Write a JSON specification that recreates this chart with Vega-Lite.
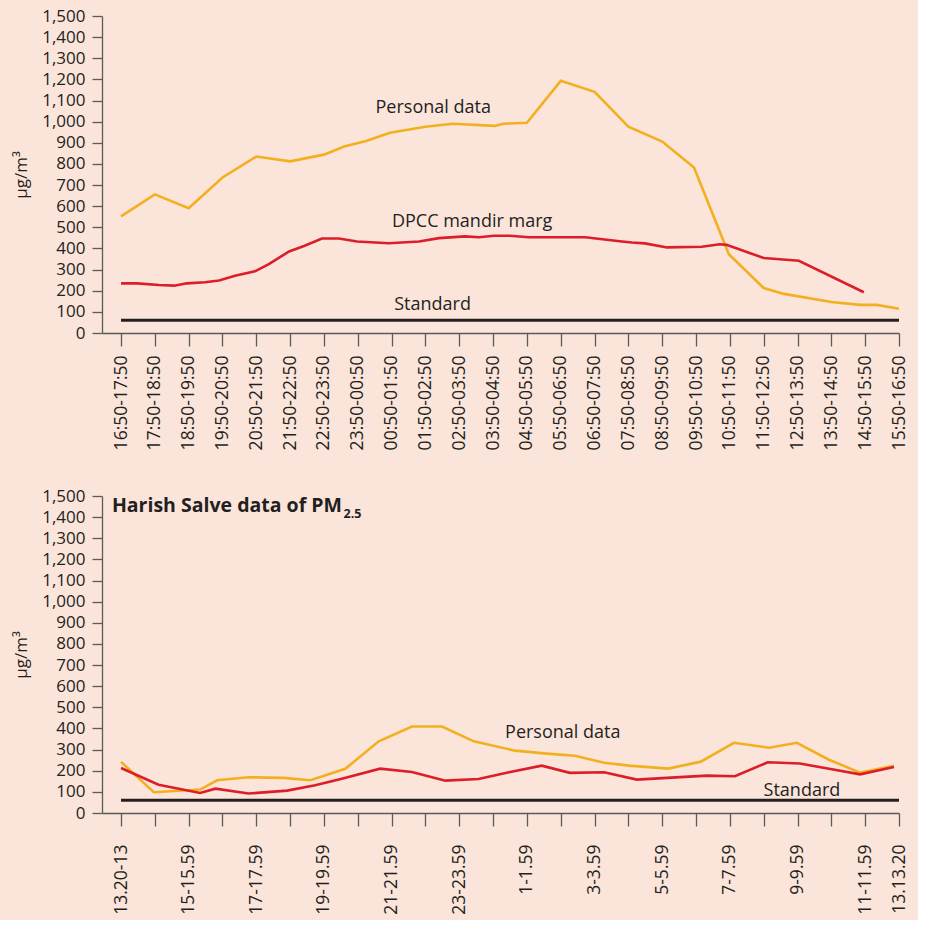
{
  "$schema": "https://vega.github.io/schema/vega-lite/v6.json",
  "background": "#fbe4da",
  "padding": {"top": 7, "left": 12, "right": 10, "bottom": 5},
  "config": {
    "view": {"stroke": null},
    "font": "Open Sans",
    "axis": {
      "grid": false,
      "labelFont": "Open Sans",
      "labelFontSize": 17.5,
      "labelColor": "#231f20",
      "domainColor": "#5a5a5a",
      "tickColor": "#5a5a5a",
      "domainWidth": 1.3,
      "tickWidth": 1.3,
      "titleFont": "Open Sans",
      "titleFontSize": 17,
      "titleFontWeight": "normal",
      "titleColor": "#231f20"
    },
    "concat": {"spacing": 37}
  },
  "datasets": {
    "top": [
      {"series": "Personal data", "idx": 0, "value": 552},
      {"series": "Personal data", "idx": 1, "value": 656},
      {"series": "Personal data", "idx": 2, "value": 590},
      {"series": "Personal data", "idx": 3, "value": 736},
      {"series": "Personal data", "idx": 4, "value": 835},
      {"series": "Personal data", "idx": 5, "value": 812},
      {"series": "Personal data", "idx": 6, "value": 844},
      {"series": "Personal data", "idx": 6.6, "value": 882},
      {"series": "Personal data", "idx": 7.27, "value": 910},
      {"series": "Personal data", "idx": 7.95, "value": 948},
      {"series": "Personal data", "idx": 9.0, "value": 976},
      {"series": "Personal data", "idx": 9.8, "value": 990},
      {"series": "Personal data", "idx": 11.05, "value": 980},
      {"series": "Personal data", "idx": 11.3, "value": 990},
      {"series": "Personal data", "idx": 12.0, "value": 995},
      {"series": "Personal data", "idx": 13.0, "value": 1193},
      {"series": "Personal data", "idx": 14.0, "value": 1141},
      {"series": "Personal data", "idx": 15.0, "value": 976},
      {"series": "Personal data", "idx": 16.0, "value": 906},
      {"series": "Personal data", "idx": 16.94, "value": 783},
      {"series": "Personal data", "idx": 17.97, "value": 373},
      {"series": "Personal data", "idx": 19.0, "value": 213},
      {"series": "Personal data", "idx": 19.6, "value": 185},
      {"series": "Personal data", "idx": 21.0, "value": 147},
      {"series": "Personal data", "idx": 21.85, "value": 133},
      {"series": "Personal data", "idx": 22.35, "value": 133},
      {"series": "Personal data", "idx": 23.0, "value": 115},
      {"series": "DPCC mandir marg", "idx": 0, "value": 235},
      {"series": "DPCC mandir marg", "idx": 0.47, "value": 235},
      {"series": "DPCC mandir marg", "idx": 1.12, "value": 227},
      {"series": "DPCC mandir marg", "idx": 1.57, "value": 224},
      {"series": "DPCC mandir marg", "idx": 1.95, "value": 235},
      {"series": "DPCC mandir marg", "idx": 2.48, "value": 240},
      {"series": "DPCC mandir marg", "idx": 2.9, "value": 248},
      {"series": "DPCC mandir marg", "idx": 3.37, "value": 271},
      {"series": "DPCC mandir marg", "idx": 3.96, "value": 292},
      {"series": "DPCC mandir marg", "idx": 4.37, "value": 326},
      {"series": "DPCC mandir marg", "idx": 4.97, "value": 386},
      {"series": "DPCC mandir marg", "idx": 5.41, "value": 412},
      {"series": "DPCC mandir marg", "idx": 5.94, "value": 447},
      {"series": "DPCC mandir marg", "idx": 6.44, "value": 447},
      {"series": "DPCC mandir marg", "idx": 6.98, "value": 433},
      {"series": "DPCC mandir marg", "idx": 7.92, "value": 425},
      {"series": "DPCC mandir marg", "idx": 8.81, "value": 433},
      {"series": "DPCC mandir marg", "idx": 9.4, "value": 449},
      {"series": "DPCC mandir marg", "idx": 10.17, "value": 457},
      {"series": "DPCC mandir marg", "idx": 10.58, "value": 453},
      {"series": "DPCC mandir marg", "idx": 11.03, "value": 460},
      {"series": "DPCC mandir marg", "idx": 11.5, "value": 460},
      {"series": "DPCC mandir marg", "idx": 12.06, "value": 453},
      {"series": "DPCC mandir marg", "idx": 13.72, "value": 453},
      {"series": "DPCC mandir marg", "idx": 14.81, "value": 433},
      {"series": "DPCC mandir marg", "idx": 15.1, "value": 428},
      {"series": "DPCC mandir marg", "idx": 15.49, "value": 424},
      {"series": "DPCC mandir marg", "idx": 16.14, "value": 405},
      {"series": "DPCC mandir marg", "idx": 17.17, "value": 408},
      {"series": "DPCC mandir marg", "idx": 17.7, "value": 420},
      {"series": "DPCC mandir marg", "idx": 17.9, "value": 417},
      {"series": "DPCC mandir marg", "idx": 19.0, "value": 355},
      {"series": "DPCC mandir marg", "idx": 20.04, "value": 342},
      {"series": "DPCC mandir marg", "idx": 21.96, "value": 193}
    ],
    "topStandard": [
      {"series": "Standard", "idx": 0, "value": 60},
      {"series": "Standard", "idx": 23, "value": 60}
    ],
    "topNotes": [
      {"idx": 9.23, "value": 1041, "label": "Personal data"},
      {"idx": 10.38, "value": 503, "label": "DPCC mandir marg"},
      {"idx": 9.21, "value": 109, "label": "Standard"}
    ],
    "bottom": [
      {"series": "Personal data", "idx": 0, "value": 242},
      {"series": "Personal data", "idx": 0.97, "value": 98},
      {"series": "Personal data", "idx": 2.34, "value": 111},
      {"series": "Personal data", "idx": 2.84, "value": 155},
      {"series": "Personal data", "idx": 3.77, "value": 169},
      {"series": "Personal data", "idx": 4.81, "value": 166},
      {"series": "Personal data", "idx": 5.6, "value": 155},
      {"series": "Personal data", "idx": 6.63, "value": 209},
      {"series": "Personal data", "idx": 7.62, "value": 339},
      {"series": "Personal data", "idx": 8.6, "value": 409},
      {"series": "Personal data", "idx": 9.49, "value": 409},
      {"series": "Personal data", "idx": 10.43, "value": 339},
      {"series": "Personal data", "idx": 11.65, "value": 295},
      {"series": "Personal data", "idx": 12.59, "value": 281},
      {"series": "Personal data", "idx": 13.42, "value": 271},
      {"series": "Personal data", "idx": 14.28, "value": 238},
      {"series": "Personal data", "idx": 15.02, "value": 224},
      {"series": "Personal data", "idx": 16.17, "value": 210},
      {"series": "Personal data", "idx": 17.14, "value": 243},
      {"series": "Personal data", "idx": 18.12, "value": 332},
      {"series": "Personal data", "idx": 19.16, "value": 309},
      {"series": "Personal data", "idx": 19.98, "value": 332},
      {"series": "Personal data", "idx": 20.93, "value": 252},
      {"series": "Personal data", "idx": 21.85, "value": 191},
      {"series": "Personal data", "idx": 22.85, "value": 224},
      {"series": "Ambient data", "idx": 0, "value": 213},
      {"series": "Ambient data", "idx": 1.11, "value": 134},
      {"series": "Ambient data", "idx": 2.34, "value": 95},
      {"series": "Ambient data", "idx": 2.79, "value": 115},
      {"series": "Ambient data", "idx": 3.77, "value": 92},
      {"series": "Ambient data", "idx": 4.91, "value": 106},
      {"series": "Ambient data", "idx": 5.74, "value": 131},
      {"series": "Ambient data", "idx": 6.53, "value": 162},
      {"series": "Ambient data", "idx": 7.66, "value": 210},
      {"series": "Ambient data", "idx": 8.6, "value": 194},
      {"series": "Ambient data", "idx": 9.59, "value": 153},
      {"series": "Ambient data", "idx": 10.57, "value": 161},
      {"series": "Ambient data", "idx": 11.47, "value": 193},
      {"series": "Ambient data", "idx": 12.44, "value": 224},
      {"series": "Ambient data", "idx": 13.27, "value": 190},
      {"series": "Ambient data", "idx": 14.28, "value": 193},
      {"series": "Ambient data", "idx": 15.25, "value": 158},
      {"series": "Ambient data", "idx": 16.14, "value": 166},
      {"series": "Ambient data", "idx": 17.32, "value": 177},
      {"series": "Ambient data", "idx": 18.15, "value": 174},
      {"series": "Ambient data", "idx": 19.12, "value": 240},
      {"series": "Ambient data", "idx": 20.07, "value": 234},
      {"series": "Ambient data", "idx": 20.93, "value": 209},
      {"series": "Ambient data", "idx": 21.85, "value": 183},
      {"series": "Ambient data", "idx": 22.85, "value": 218}
    ],
    "bottomStandard": [
      {"series": "Standard", "idx": 0, "value": 60},
      {"series": "Standard", "idx": 23, "value": 60}
    ],
    "bottomNotes": [
      {"idx": 13.06, "value": 354, "label": "Personal data"},
      {"idx": 20.13, "value": 82, "label": "Standard"}
    ],
    "bottomTitle": [
      {"idx": 6.53, "value": 1423, "label": "Harish Salve data of PM"}
    ],
    "bottomSub": [
      {"idx": 6.58, "value": 1395, "label": "2.5"}
    ]
  },
  "vconcat": [
    {
      "width": 797,
      "height": 317,
      "encoding": {
        "x": {
          "field": "idx",
          "type": "quantitative",
          "scale": {"domain": [-0.562, 23], "nice": false, "zero": false},
          "axis": {
            "title": null,
            "values": [0,1,2,3,4,5,6,7,8,9,10,11,12,13,14,15,16,17,18,19,20,21,22,23],
            "labelExpr": "['16:50-17:50','17:50-18:50','18:50-19:50','19:50-20:50','20:50-21:50','21:50-22:50','22:50-23:50','23:50-00:50','00:50-01:50','01:50-02:50','02:50-03:50','03:50-04:50','04:50-05:50','05:50-06:50','06:50-07:50','07:50-08:50','08:50-09:50','09:50-10:50','10:50-11:50','11:50-12:50','12:50-13:50','13:50-14:50','14:50-15:50','15:50-16:50'][datum.value]",
            "labelAngle": 270,
            "tickSize": 13,
            "labelPadding": 9,
            "labelOverlap": false,
            "labelFlush": false,
            "labelBound": false
          }
        },
        "y": {
          "field": "value",
          "type": "quantitative",
          "scale": {"domain": [0, 1500], "nice": false},
          "axis": {
            "title": "µg/m³",
            "values": [0,100,200,300,400,500,600,700,800,900,1000,1100,1200,1300,1400,1500],
            "format": ",.0f",
            "labelFontSize": 17,
            "tickSize": 10,
            "labelPadding": 7,
            "titlePadding": 11,
            "labelOverlap": false,
            "labelFlush": false
          }
        }
      },
      "layer": [
        {
          "data": {"name": "top"},
          "mark": {"type": "line", "strokeWidth": 2.6},
          "encoding": {
            "color": {
              "field": "series",
              "type": "nominal",
              "scale": {"domain": ["Personal data", "DPCC mandir marg", "Ambient data"], "range": ["#f2b01e", "#dc1d2a", "#dc1d2a"]},
              "legend": null
            }
          }
        },
        {
          "data": {"name": "topStandard"},
          "mark": {"type": "line", "strokeWidth": 3, "color": "#231f20"},
          "encoding": {}
        },
        {
          "data": {"name": "topNotes"},
          "mark": {"type": "text", "fontSize": 18, "color": "#231f20", "align": "center", "baseline": "alphabetic", "font": "Open Sans"},
          "encoding": {"text": {"field": "label"}}
        }
      ]
    },
    {
      "width": 797,
      "height": 317,
      "encoding": {
        "x": {
          "field": "idx",
          "type": "quantitative",
          "scale": {"domain": [-0.562, 23], "nice": false, "zero": false},
          "axis": {
            "title": null,
            "values": [0,1,2,3,4,5,6,7,8,9,10,11,12,13,14,15,16,17,18,19,20,21,22,23],
            "labelExpr": "['13.20-13','','15-15.59','','17-17.59','','19-19.59','','21-21.59','','23-23.59','','1-1.59','','3-3.59','','5-5.59','','7-7.59','','9-9.59','','11-11.59','13.13.20'][datum.value]",
            "labelAngle": 270,
            "tickSize": 13,
            "labelPadding": 18,
            "labelOverlap": false,
            "labelFlush": false,
            "labelBound": false
          }
        },
        "y": {
          "field": "value",
          "type": "quantitative",
          "scale": {"domain": [0, 1500], "nice": false},
          "axis": {
            "title": "µg/m³",
            "values": [0,100,200,300,400,500,600,700,800,900,1000,1100,1200,1300,1400,1500],
            "format": ",.0f",
            "labelFontSize": 17,
            "tickSize": 10,
            "labelPadding": 7,
            "titlePadding": 11,
            "labelOverlap": false,
            "labelFlush": false
          }
        }
      },
      "layer": [
        {
          "data": {"name": "bottom"},
          "mark": {"type": "line", "strokeWidth": 2.6},
          "encoding": {
            "color": {
              "field": "series",
              "type": "nominal",
              "scale": {"domain": ["Personal data", "DPCC mandir marg", "Ambient data"], "range": ["#f2b01e", "#dc1d2a", "#dc1d2a"]},
              "legend": null
            }
          }
        },
        {
          "data": {"name": "bottomStandard"},
          "mark": {"type": "line", "strokeWidth": 3, "color": "#231f20"},
          "encoding": {}
        },
        {
          "data": {"name": "bottomNotes"},
          "mark": {"type": "text", "fontSize": 18, "color": "#231f20", "align": "center", "baseline": "alphabetic", "font": "Open Sans"},
          "encoding": {"text": {"field": "label"}}
        },
        {
          "data": {"name": "bottomTitle"},
          "mark": {"type": "text", "fontSize": 19.5, "fontWeight": "bold", "color": "#231f20", "align": "right", "baseline": "alphabetic", "font": "Open Sans"},
          "encoding": {"text": {"field": "label"}}
        },
        {
          "data": {"name": "bottomSub"},
          "mark": {"type": "text", "fontSize": 12.5, "fontWeight": "bold", "color": "#231f20", "align": "left", "baseline": "alphabetic", "font": "Open Sans"},
          "encoding": {"text": {"field": "label"}}
        }
      ]
    }
  ]
}
